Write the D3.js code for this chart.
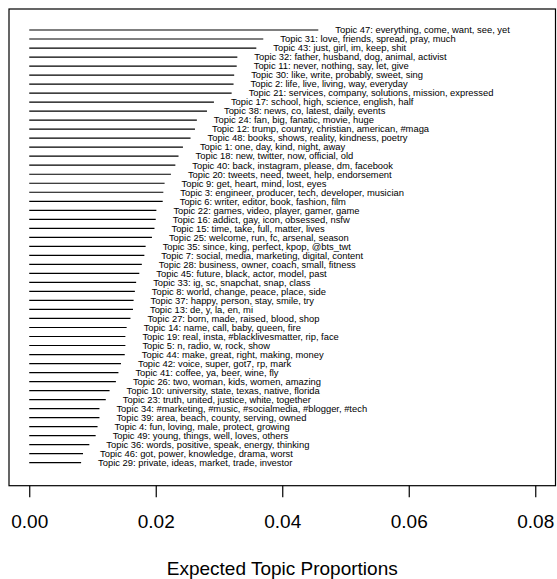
<!DOCTYPE html>
<html>
<head>
<meta charset="utf-8">
<script src="https://cdnjs.cloudflare.com/ajax/libs/d3/7.8.5/d3.min.js"></script>
<style>
  body { margin: 0; background: #fff; }
  text { font-family: "Liberation Sans", Arial, Helvetica, sans-serif; fill: #000; }
</style>
</head>
<body>
<div id="chart"></div>
<script>
// topics in the order they are drawn, top to bottom
var topicIds = [47, 31, 43, 32, 11, 30, 2, 21, 17, 38, 24, 12, 48, 1, 18,
  40, 20, 9, 3, 6, 22, 16, 15, 25, 35, 7, 28, 45, 33, 8, 37, 13,
  27, 14, 19, 5, 44, 42, 41, 26, 10, 23, 34, 39, 4, 49, 36, 46, 29];

var topicWords = [
  "everything, come, want, see, yet",
  "love, friends, spread, pray, much",
  "just, girl, im, keep, shit",
  "father, husband, dog, animal, activist",
  "never, nothing, say, let, give",
  "like, write, probably, sweet, sing",
  "life, live, living, way, everyday",
  "services, company, solutions, mission, expressed",
  "school, high, science, english, half",
  "news, co, latest, daily, events",
  "fan, big, fanatic, movie, huge",
  "trump, country, christian, american, #maga",
  "books, shows, reality, kindness, poetry",
  "one, day, kind, night, away",
  "new, twitter, now, official, old",
  "back, instagram, please, dm, facebook",
  "tweets, need, tweet, help, endorsement",
  "get, heart, mind, lost, eyes",
  "engineer, producer, tech, developer, musician",
  "writer, editor, book, fashion, film",
  "games, video, player, gamer, game",
  "addict, gay, icon, obsessed, nsfw",
  "time, take, full, matter, lives",
  "welcome, run, fc, arsenal, season",
  "since, king, perfect, kpop, @bts_twt",
  "social, media, marketing, digital, content",
  "business, owner, coach, small, fitness",
  "future, black, actor, model, past",
  "ig, sc, snapchat, snap, class",
  "world, change, peace, place, side",
  "happy, person, stay, smile, try",
  "de, y, la, en, mi",
  "born, made, raised, blood, shop",
  "name, call, baby, queen, fire",
  "real, insta, #blacklivesmatter, rip, face",
  "n, radio, w, rock, show",
  "make, great, right, making, money",
  "voice, super, got7, rp, mark",
  "coffee, ya, beer, wine, fly",
  "two, woman, kids, women, amazing",
  "university, state, texas, native, florida",
  "truth, united, justice, white, together",
  "#marketing, #music, #socialmedia, #blogger, #tech",
  "area, beach, county, serving, owned",
  "fun, loving, male, protect, growing",
  "young, things, well, loves, others",
  "words, positive, speak, energy, thinking",
  "got, power, knowledge, drama, worst",
  "private, ideas, market, trade, investor"
];

var proportions = [0.0457, 0.0370, 0.0359, 0.0329, 0.0328, 0.0324, 0.0323, 0.0320,
  0.0292, 0.0281, 0.0265, 0.0262, 0.0255, 0.0243, 0.0236,
  0.0231, 0.0224, 0.0214, 0.0212, 0.0211, 0.0201, 0.0200, 0.0198, 0.0194,
  0.0184, 0.0182, 0.0178, 0.0174, 0.0169, 0.0167, 0.0165, 0.0164,
  0.0160, 0.0154, 0.0152, 0.0152, 0.0151, 0.0145, 0.0141, 0.0137,
  0.0127, 0.0121, 0.0111, 0.0111, 0.0108, 0.0105, 0.0095, 0.0085, 0.0082];

var xTicks = [0, 0.02, 0.04, 0.06, 0.08];
var xLabel = "Expected Topic Proportions";

var width = 557, height = 579;
var box = { left: 9, right: 555.5, top: 9, bottom: 485.7 };

var data = topicIds.map(function(id, i) {
  return { id: id, label: "Topic " + id + ": " + topicWords[i], value: proportions[i] };
});

var svg = d3.select("#chart").append("svg")
  .attr("width", width)
  .attr("height", height);

// R style 4% padding around xlim = c(0, 0.08)
var pad = 0.08 * 0.04;
var x = d3.scaleLinear()
  .domain([-pad, 0.08 + pad])
  .range([box.left, box.right]);

var y = d3.scalePoint()
  .domain(topicIds)
  .range([30, 462.7]);

// plot box
svg.append("rect")
  .attr("x", box.left)
  .attr("y", box.top)
  .attr("width", box.right - box.left)
  .attr("height", box.bottom - box.top)
  .attr("fill", "none")
  .attr("stroke", "#000")
  .attr("stroke-width", 1.2);

// x axis
var xAxis = d3.axisBottom(x)
  .tickValues(xTicks)
  .tickSize(11.5)
  .tickPadding(8)
  .tickFormat(d3.format(".2f"));

var gx = svg.append("g")
  .attr("transform", "translate(0," + box.bottom + ")")
  .call(xAxis);
gx.select(".domain").remove();
gx.selectAll(".tick line").attr("stroke", "#000").attr("stroke-width", 1.2);
gx.selectAll(".tick text")
  .attr("y", 0)
  .attr("dy", 0)
  .attr("transform", "translate(0,42)")
  .style("font-size", "19px")
  .style("font-family", "'Liberation Sans', Arial, sans-serif");

svg.append("text")
  .attr("x", (box.left + box.right) / 2)
  .attr("y", 575)
  .attr("text-anchor", "middle")
  .style("font-size", "19px")
  .text(xLabel);

// topic lines and labels
var rows = svg.append("g").selectAll("g")
  .data(data)
  .enter().append("g");

rows.append("line")
  .attr("x1", x(0))
  .attr("x2", function(d) { return x(d.value); })
  .attr("y1", function(d) { return y(d.id); })
  .attr("y2", function(d) { return y(d.id); })
  .attr("stroke", "#000")
  .attr("stroke-width", 1.2);

rows.append("text")
  .attr("x", function(d) { return x(d.value) + 17; })
  .attr("y", function(d) { return y(d.id); })
  .attr("dy", "0.35em")
  .style("font-size", "9.4px")
  .text(function(d) { return d.label; });
</script>
</body>
</html>
